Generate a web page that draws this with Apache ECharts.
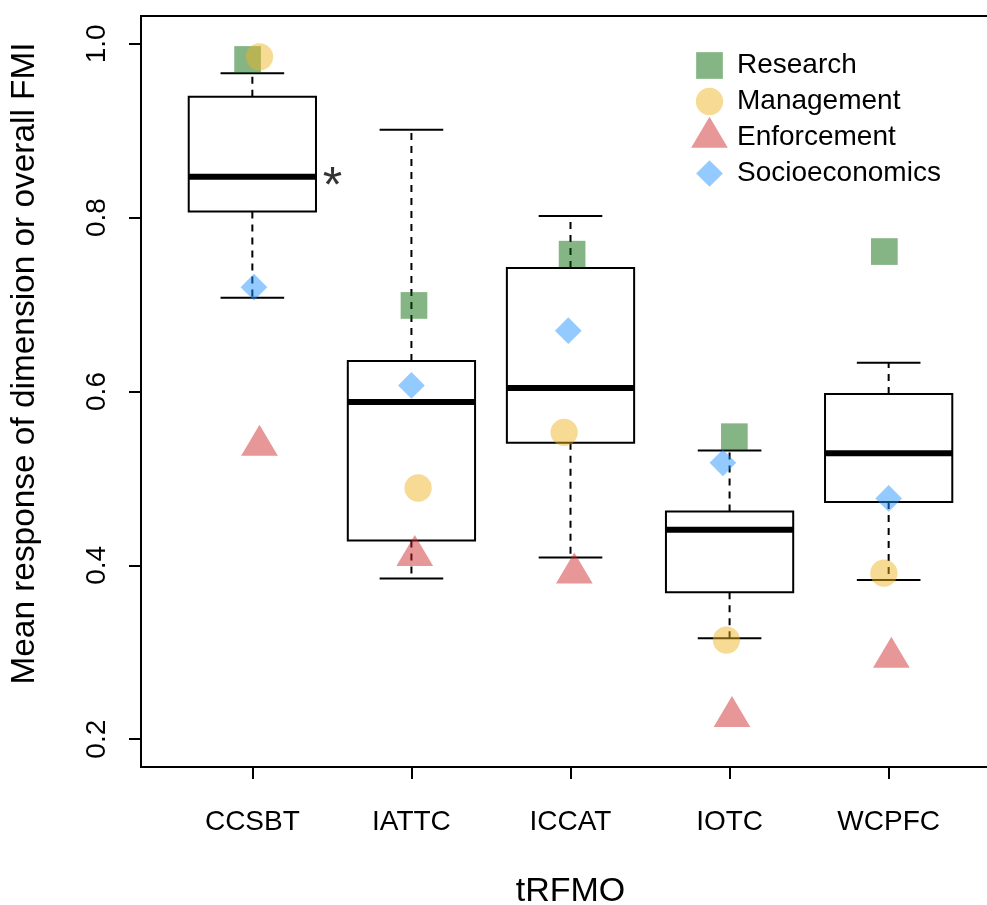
<!DOCTYPE html>
<html><head><meta charset="utf-8">
<script src="https://cdn.jsdelivr.net/npm/echarts@6/dist/echarts.min.js"></script>
<style>html,body{margin:0;padding:0;background:#fff}#c{width:987px;height:905px}</style>
</head><body><div id="c"></div>
<script>
// ---- data ----
const categories = ['CCSBT', 'IATTC', 'ICCAT', 'IOTC', 'WCPFC'];
// boxplot statistics per tRFMO
const whiskerLow  = [0.708, 0.385, 0.409, 0.316, 0.383];
const quart1      = [0.807, 0.4285, 0.541, 0.369, 0.473];
const medians     = [0.847, 0.588, 0.604, 0.441, 0.529];
const quart3      = [0.939, 0.635, 0.742, 0.462, 0.597];
const whiskerHigh = [0.966, 0.901, 0.802, 0.532, 0.633];
// dimension means per tRFMO
const research       = [0.982, 0.699, 0.758, 0.548, 0.761];
const management     = [0.985, 0.489, 0.553, 0.314, 0.391];
const enforcement    = [0.538, 0.411, 0.391, 0.226, 0.294];
const socioeconomics = [0.720, 0.607, 0.670, 0.518, 0.477];
// horizontal jitter of the points (axis units)
const researchJitter       = [-0.03, 0.016, 0.01, 0.03, -0.027];
const managementJitter     = [0.045, 0.042, -0.04, -0.02, -0.03];
const enforcementJitter    = [0.045, 0.021, 0.024, 0.015, 0.017];
const socioeconomicsJitter = [0.01, 0.0, -0.014, -0.042, 0.0];
const yTicks = [0.2, 0.4, 0.6, 0.8, 1.0];
const xTicks = [1, 2, 3, 4, 5];
const noteText = '*';
const notePos = [1.503, 0.847];

// ---- build ----
const FONT = '"Liberation Sans", Arial, Helvetica, sans-serif';
const BOX_HALF = 0.4, CAP_HALF = 0.2;
// the plotting frame runs past the right edge of the page (cropped, as in the reference)
const X_MIN = 0.3, X_MAX = 6.272, Y_MIN = 0.168, Y_MAX = 1.032;
const boxData = categories.map((c, i) => [i + 1, whiskerLow[i], quart1[i], medians[i], quart3[i], whiskerHigh[i]]);
const pts = (vals, jit) => vals.map((v, i) => [i + 1 + jit[i], v]);
const frameLine = () => ({show: true, onZero: false, lineStyle: {color: '#000', width: 2, cap: 'square'}});

const PAD = 'M0,0M37,42';
const icons = {
  Research: 'path://' + PAD + 'M5.15,7.65h26.7v26.7h-26.7z',
  Management: 'path://' + PAD + 'M4.85,21a13.65,13.65 0 1,0 27.3,0a13.65,13.65 0 1,0 -27.3,0z',
  Enforcement: 'path://' + PAD + 'M18.5,0.3L36.85,31.3L0.15,31.3z',
  Socioeconomics: 'path://' + PAD + 'M18.5,7.65L31.85,21L18.5,34.35L5.15,21z'
};

const chart = echarts.init(document.getElementById('c'), null, {renderer: 'canvas'});
chart.setOption({
  animation: false,
  backgroundColor: '#fff',
  textStyle: {fontFamily: FONT},
  grid: {left: 141, top: 16, width: 950, height: 751, containLabel: false, outerBoundsMode: 'none', show: false},
  legend: {
    orient: 'vertical', left: 686, top: 39.5, itemWidth: 37, itemHeight: 42, itemGap: -6,
    selectedMode: false,
    textStyle: {fontSize: 28, color: '#000', fontFamily: FONT, padding: [0, 0, 0, 4]},
    data: Object.keys(icons).map(n => ({name: n, icon: icons[n]}))
  },
  xAxis: [{
    type: 'value', min: X_MIN, max: X_MAX, position: 'bottom',
    name: 'tRFMO', nameLocation: 'middle', nameGap: 108,
    nameTextStyle: {fontSize: 34, color: '#000', fontFamily: FONT, padding: [0, 91, 0, 0]},
    axisLine: frameLine(),
    splitLine: {show: false},
    axisTick: {show: true, customValues: xTicks, length: 12, lineStyle: {color: '#000', width: 2}},
    axisLabel: {customValues: xTicks, formatter: v => categories[Math.round(v) - 1] || '', fontSize: 28, color: '#000', margin: 41, fontFamily: FONT}
  }, {
    type: 'value', min: X_MIN, max: X_MAX, position: 'top',
    axisLine: frameLine(), axisTick: {show: false}, axisLabel: {show: false}, splitLine: {show: false}
  }],
  yAxis: {
    type: 'value', min: Y_MIN, max: Y_MAX,
    name: 'Mean response of dimension or overall FMI', nameLocation: 'middle', nameGap: 100, nameRotate: 90,
    nameTextStyle: {fontSize: 33.4, color: '#000', fontFamily: FONT, padding: [0, 0, 0, 56]},
    axisLine: frameLine(),
    splitLine: {show: false},
    axisTick: {show: true, customValues: yTicks, length: 12, lineStyle: {color: '#000', width: 2}},
    axisLabel: {customValues: yTicks, formatter: v => v.toFixed(1), rotate: 90, fontSize: 28, color: '#000', margin: 30, fontFamily: FONT}
  },
  series: [
    {
      type: 'custom', name: 'boxes', data: boxData,
      encode: {x: 0, y: [1, 2, 3, 4, 5]},
      renderItem: function (params, api) {
        const x = api.value(0), lo = api.value(1), q1 = api.value(2), md = api.value(3), q3 = api.value(4), hi = api.value(5);
        const c = (a, b) => api.coord([a, b]);
        const dashed = {stroke: '#000', lineWidth: 2, lineDash: [7, 6], fill: null};
        const solid = {stroke: '#000', lineWidth: 2, fill: null};
        const ln = (p1, p2, st) => ({type: 'line', shape: {x1: p1[0], y1: p1[1], x2: p2[0], y2: p2[1]}, style: st});
        const bl = c(x - BOX_HALF, q1), tr = c(x + BOX_HALF, q3);
        return {type: 'group', children: [
          ln(c(x, q3), c(x, hi), dashed),
          ln(c(x, q1), c(x, lo), dashed),
          ln(c(x - CAP_HALF, hi), c(x + CAP_HALF, hi), solid),
          ln(c(x - CAP_HALF, lo), c(x + CAP_HALF, lo), solid),
          {type: 'rect', shape: {x: bl[0], y: tr[1], width: tr[0] - bl[0], height: bl[1] - tr[1]}, style: {fill: 'transparent', stroke: '#000', lineWidth: 2}},
          ln(c(x - BOX_HALF, md), c(x + BOX_HALF, md), {stroke: '#000', lineWidth: 6, lineCap: 'butt'})
        ]};
      }
    },
    {type: 'scatter', name: 'Research', data: pts(research, researchJitter), symbol: 'rect', symbolSize: 26.7,
      itemStyle: {color: 'rgba(0,100,0,0.6)'}},
    {type: 'scatter', name: 'Management', data: pts(management, managementJitter), symbol: 'circle', symbolSize: 27.3,
      itemStyle: {color: 'rgba(238,180,34,0.6)'}},
    {type: 'scatter', name: 'Enforcement', data: pts(enforcement, enforcementJitter), symbol: 'triangle', symbolSize: [36.7, 31], symbolOffset: [0, -5.2],
      itemStyle: {color: 'rgba(205,38,38,0.6)'}},
    {type: 'scatter', name: 'Socioeconomics', data: pts(socioeconomics, socioeconomicsJitter), symbol: 'diamond', symbolSize: 26.7,
      itemStyle: {color: 'rgba(30,144,255,0.6)'}},
    {type: 'scatter', name: 'note', data: [notePos], symbolSize: 1, itemStyle: {color: 'transparent'},
      label: {show: true, position: 'inside', formatter: noteText, fontSize: 50, color: '#000', offset: [0, 11], fontFamily: FONT}}
  ]
});
</script></body></html>
